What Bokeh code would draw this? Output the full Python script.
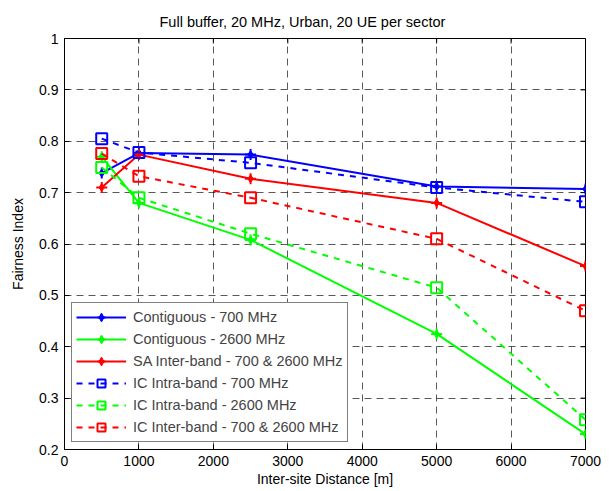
import math
from bokeh.plotting import figure
from bokeh.models import FixedTicker, Legend, LegendItem, Range1d
from bokeh.embed import file_html
from bokeh.resources import INLINE

distance = [500, 1000, 2500, 5000, 7000]
contig_700 = [0.738, 0.777, 0.774, 0.712, 0.707]
contig_2600 = [0.770, 0.680, 0.608, 0.425, 0.230]
sa_inter = [0.710, 0.774, 0.727, 0.680, 0.557]
ic_intra_700 = [0.805, 0.778, 0.758, 0.710, 0.682]
ic_intra_2600 = [0.749, 0.690, 0.620, 0.515, 0.258]
ic_inter = [0.776, 0.732, 0.690, 0.610, 0.470]

x_ticks = [0, 1000, 2000, 3000, 4000, 5000, 6000, 7000]
y_ticks = [0.2, 0.3, 0.4, 0.5, 0.6, 0.7, 0.8, 0.9, 1.0]
x_max = 7000
y_max = 1.0

series = [
    ("Contiguous - 700 MHz", contig_700, "#0000FF", "solid", "star"),
    ("Contiguous - 2600 MHz", contig_2600, "#00FF00", "solid", "star"),
    ("SA Inter-band - 700 & 2600 MHz", sa_inter, "#FF0000", "solid", "star"),
    ("IC Intra-band - 700 MHz", ic_intra_700, "#0000FF", "dashed", "square"),
    ("IC Intra-band - 2600 MHz", ic_intra_2600, "#00FF00", "dashed", "square"),
    ("IC Inter-band - 700 & 2600 MHz", ic_inter, "#FF0000", "dashed", "square"),
]

FONT = "Liberation Sans"

p = figure(width=611, height=491, output_backend="svg", toolbar_location=None,
           x_range=Range1d(0, 7000), y_range=Range1d(0.2, 1.0),
           min_border_left=64, min_border_right=26, min_border_bottom=42, min_border_top=38)

p.title.text = "Full buffer, 20 MHz, Urban, 20 UE per sector"
p.title.align = "left"
p.title.offset = 95
p.title.text_font = FONT
p.title.text_font_size = "14.5px"
p.title.text_font_style = "normal"
p.title.text_color = "#000000"
p.title.standoff = 18

p.xaxis.ticker = FixedTicker(ticks=x_ticks)
p.yaxis.ticker = FixedTicker(ticks=y_ticks)
p.yaxis.major_label_overrides = {1.0: "1", 1: "1"}
p.xaxis.axis_label = "Inter-site Distance [m]"
p.yaxis.axis_label = "Fairness Index"

for ax in [p.xaxis[0], p.yaxis[0]]:
    ax.axis_label_text_font = FONT
    ax.axis_label_text_font_size = "14px"
    ax.axis_label_text_font_style = "normal"
    ax.axis_label_text_color = "#000000"
    ax.major_label_text_font = FONT
    ax.major_label_text_font_size = "14px"
    ax.major_label_text_color = "#000000"
    ax.axis_line_color = "#000000"
    ax.major_tick_in = 5
    ax.major_tick_out = 0
    ax.minor_tick_line_color = None
    ax.major_tick_line_color = "#000000"
    ax.major_label_standoff = 6
p.xaxis.axis_label_standoff = 2
p.yaxis.axis_label_standoff = 10

# inward ticks on the top and right edges of the box (clipped half-markers)
p.scatter(x_ticks, [y_max] * len(x_ticks), marker="dash", angle=math.pi / 2,
          size=10, line_color="#000000", line_width=1)
p.scatter([x_max] * len(y_ticks), y_ticks, marker="dash",
          size=10, line_color="#000000", line_width=1)

p.xgrid.grid_line_color = "#000000"
p.ygrid.grid_line_color = "#000000"
p.xgrid.grid_line_dash = "7 5"
p.ygrid.grid_line_dash = "7 5"
p.xgrid.grid_line_alpha = 0.65
p.ygrid.grid_line_alpha = 0.65
p.outline_line_color = "#000000"
p.outline_line_alpha = 1.0

items = []
for label, vals, color, dash, marker in series:
    r1 = p.line(distance, vals, line_color=color, line_width=2, line_dash=dash)
    if marker == "star":
        r2 = p.scatter(distance, vals, marker="diamond", size=8, fill_color=color, line_color=color)
        r3 = p.scatter(distance, vals, marker="cross", size=11, line_color=color, line_width=2)
        rs = [r1, r2, r3]
    else:
        r2 = p.scatter(distance, vals, marker="square", size=11, fill_color=None,
                       line_color=color, line_width=2)
        rs = [r1, r2]
    items.append(LegendItem(label=label, renderers=rs))

legend = Legend(items=items, location="bottom_left", margin=7, padding=4, spacing=2,
                glyph_width=50, glyph_height=20, label_height=20, label_standoff=7,
                label_text_font=FONT, label_text_font_size="14.5px",
                border_line_color="#000000", border_line_width=1,
                background_fill_color="#FFFFFF", background_fill_alpha=1.0)
p.add_layout(legend)

open("out.html", "w").write(file_html(p, INLINE))
